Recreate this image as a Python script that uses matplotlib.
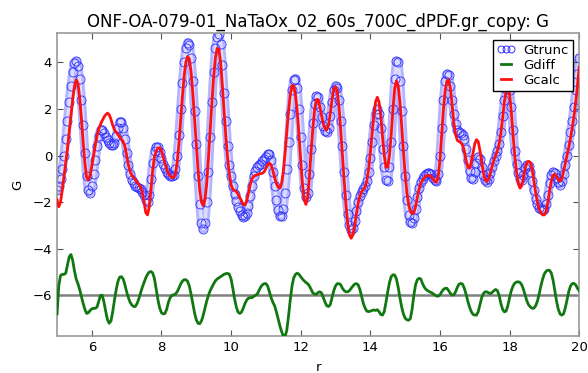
import numpy as np
import matplotlib
matplotlib.use("Agg")
import matplotlib.pyplot as plt
from matplotlib.lines import Line2D

# r grid (step 0.05 from 5 to 20)
r = np.arange(301) * 0.05 + 5.0

gtrunc = [
    -1.5, -1.3, -1.0, -0.6, 0.0, 0.7, 1.5, 2.3, 3.0, 3.6, 3.95, 4.05, 3.85, 3.3, 2.4, 1.3, 0.1, -0.9, -1.5, -1.6,
    -1.3, -0.8, -0.2, 0.4, 0.85, 1.1, 1.1, 0.95, 0.8, 0.65, 0.55, 0.45, 0.45, 0.55, 0.85, 1.2, 1.45, 1.45, 1.2, 0.7,
    0.1, -0.4, -0.8, -1.05, -1.2, -1.3, -1.35, -1.4, -1.45, -1.55, -1.7, -1.9, -2.0, -1.7, -1.0, -0.3, 0.2, 0.38, 0.35, 0.15,
    -0.1, -0.35, -0.55, -0.7, -0.8, -0.88, -0.9, -0.85, -0.6, 0.0, 0.9, 2.0, 3.1, 4.0, 4.6, 4.85, 4.75, 4.2, 3.2, 1.9,
    0.5, -0.9, -2.1, -2.9, -3.15, -2.9, -2.0, -0.7, 0.8, 2.3, 3.6, 4.6, 5.1, 5.2, 4.8, 3.9, 2.7, 1.5, 0.4, -0.4,
    -0.9, -1.3, -1.65, -1.95, -2.2, -2.4, -2.55, -2.62, -2.6, -2.45, -2.15, -1.75, -1.3, -0.9, -0.65, -0.5, -0.4, -0.35, -0.25, -0.15,
    -0.05, 0.05, 0.05, -0.2, -0.7, -1.3, -1.9, -2.35, -2.6, -2.6, -2.3, -1.6, -0.6, 0.6, 1.8, 2.8, 3.25, 3.3, 2.9, 2.0,
    0.8, -0.4, -1.4, -1.8, -1.6, -0.8, 0.3, 1.4, 2.2, 2.55, 2.5, 2.1, 1.65, 1.25, 1.05, 1.0, 1.2, 1.7, 2.3, 2.8,
    3.0, 2.9, 2.4, 1.5, 0.4, -0.7, -1.7, -2.5, -3.0, -3.2, -3.1, -2.8, -2.4, -2.0, -1.75, -1.55, -1.45, -1.3, -1.1, -0.7,
    -0.1, 0.6, 1.3, 1.8, 2.0, 1.8, 1.2, 0.3, -0.5, -1.05, -1.1, -0.5, 0.6, 2.0, 3.3, 4.05, 4.0, 3.2, 1.9, 0.4,
    -0.9, -1.9, -2.55, -2.85, -2.9, -2.7, -2.3, -1.8, -1.4, -1.15, -1.0, -0.9, -0.8, -0.75, -0.75, -0.8, -0.95, -1.05, -1.1, -0.8,
    0.0, 1.2, 2.4, 3.2, 3.5, 3.45, 3.0, 2.4, 1.8, 1.35, 1.1, 1.0, 0.95, 0.9, 0.7, 0.3, -0.2, -0.65, -0.95, -1.0,
    -0.7, -0.3, -0.05, -0.15, -0.5, -0.85, -1.05, -1.12, -1.0, -0.75, -0.5, -0.25, 0.0, 0.2, 0.5, 1.0, 1.7, 2.4, 2.85, 3.0,
    2.8, 2.1, 1.1, 0.2, -0.35, -0.75, -1.0, -1.05, -0.85, -0.55, -0.4, -0.45, -0.7, -1.1, -1.5, -1.85, -2.1, -2.25, -2.3, -2.35,
    -2.3, -2.1, -1.7, -1.2, -0.85, -0.7, -0.75, -0.95, -1.15, -1.25, -1.1, -0.8, -0.4, 0.0, 0.45, 1.0, 1.5, 2.1, 2.8, 3.5,
    4.2,
]

gcalc = [
    -1.9, -2.2, -2.0, -1.5, -0.9, -0.3, 0.3, 1.0, 1.7, 2.4, 2.95, 3.25, 3.1, 2.5, 1.6, 0.6, -0.3, -0.95, -1.05, -0.85,
    -0.45, 0.0, 0.45, 0.85, 1.15, 1.35, 1.5, 1.65, 1.75, 1.82, 1.75, 1.55, 1.3, 1.1, 1.0, 0.9, 0.8, 0.7, 0.6, 0.4,
    0.0, -0.4, -0.7, -0.85, -0.95, -1.05, -1.15, -1.25, -1.35, -1.6, -2.0, -2.45, -2.55, -2.2, -1.4, -0.6, -0.05, 0.2, 0.32, 0.33,
    0.2, -0.05, -0.35, -0.6, -0.78, -0.88, -0.93, -0.95, -0.8, -0.3, 0.5, 1.5, 2.5, 3.4, 4.0, 4.25, 4.15, 3.6, 2.7, 1.6,
    0.5, -0.6, -1.5, -2.0, -2.15, -1.9, -1.2, -0.1, 1.1, 2.3, 3.4, 4.2, 4.6, 4.55, 4.0, 3.0, 1.9, 0.8, -0.1, -0.8,
    -1.25, -1.45, -1.5, -1.55, -1.65, -1.8, -1.95, -2.1, -2.12, -1.95, -1.6, -1.25, -1.0, -0.9, -0.85, -0.82, -0.8, -0.78, -0.76, -0.7,
    -0.55, -0.4, -0.33, -0.4, -0.65, -0.95, -1.2, -1.35, -1.4, -1.2, -0.7, 0.1, 1.0, 1.9, 2.6, 3.0, 3.0, 2.6, 1.9, 0.9,
    -0.2, -1.2, -1.9, -2.1, -1.8, -0.9, 0.2, 1.2, 2.0, 2.4, 2.4, 2.1, 1.7, 1.35, 1.15, 1.1, 1.3, 1.8, 2.4, 2.85,
    2.95, 2.75, 2.1, 1.1, 0.0, -1.1, -2.1, -2.9, -3.4, -3.55, -3.4, -3.0, -2.5, -2.05, -1.75, -1.55, -1.45, -1.35, -1.1, -0.6,
    0.1, 0.9, 1.7, 2.3, 2.5, 2.3, 1.7, 0.8, 0.0, -0.5, -0.5, 0.0, 0.9, 2.0, 2.9, 3.2, 3.0, 2.3, 1.3, 0.2,
    -0.8, -1.6, -2.1, -2.4, -2.5, -2.45, -2.2, -1.8, -1.45, -1.2, -1.05, -0.95, -0.88, -0.85, -0.85, -0.9, -1.0, -1.1, -1.15, -0.9,
    -0.2, 0.9, 2.0, 2.8, 3.2, 3.25, 2.9, 2.2, 1.4, 0.9, 0.65, 0.6, 0.55, 0.45, 0.2, -0.2, -0.5, -0.55, -0.3, 0.1,
    0.5, 0.68, 0.6, 0.2, -0.3, -0.75, -1.05, -1.12, -1.0, -0.75, -0.45, -0.2, 0.0, 0.2, 0.5, 0.95, 1.6, 2.3, 2.75, 2.9,
    2.65, 1.9, 0.9, 0.0, -0.7, -1.2, -1.4, -1.3, -0.95, -0.55, -0.3, -0.25, -0.3, -0.6, -1.1, -1.6, -2.0, -2.3, -2.45, -2.55,
    -2.55, -2.4, -2.0, -1.5, -1.1, -0.85, -0.8, -0.9, -1.05, -1.1, -1.0, -0.7, -0.35, 0.0, 0.35, 0.75, 1.2, 1.7, 2.3, 3.0,
    3.8,
]

# difference curve, already shifted to the baseline below
gdiff = [
    -6.8, -5.6, -5.15, -5.1, -5.1, -5.05, -4.7, -4.35, -4.25, -4.5, -4.95, -5.3, -5.5, -5.75, -6.05, -6.35, -6.6, -6.78, -6.75, -6.65,
    -6.58, -6.56, -6.56, -6.5, -6.25, -6.0, -6.0, -6.3, -6.7, -7.05, -7.2, -7.1, -6.7, -6.2, -5.75, -5.4, -5.22, -5.2, -5.3, -5.55,
    -5.85, -6.1, -6.3, -6.42, -6.48, -6.48, -6.35, -6.15, -5.9, -5.65, -5.45, -5.25, -5.1, -5.0, -4.98, -5.05, -5.3, -5.75, -6.2, -6.55,
    -6.75, -6.8, -6.78, -6.6, -6.3, -6.1, -6.0, -5.98, -5.95, -5.85, -5.7, -5.52, -5.4, -5.33, -5.33, -5.4, -5.6, -5.95, -6.35, -6.75,
    -7.05, -7.2, -7.22, -7.1, -6.85, -6.55, -6.25, -6.0, -5.8, -5.65, -5.5, -5.38, -5.3, -5.25, -5.2, -5.15, -5.1, -5.07, -5.06, -5.1,
    -5.3, -5.7, -6.15, -6.5, -6.72, -6.78, -6.72, -6.55, -6.35, -6.2, -6.12, -6.1, -6.1, -6.05, -6.0, -5.95, -5.8, -5.65, -5.55, -5.5,
    -5.5, -5.6, -5.85, -6.1, -6.3, -6.45, -6.7, -7.0, -7.3, -7.55, -7.75, -7.78, -7.5, -6.9, -6.2, -5.6, -5.25, -5.1, -5.05, -5.1,
    -5.2, -5.3, -5.38, -5.45, -5.5, -5.6, -5.75, -5.9, -5.95, -5.95, -5.88, -5.85, -5.9, -6.1, -6.3, -6.45, -6.48, -6.4, -6.1, -5.8,
    -5.6, -5.5, -5.5, -5.55, -5.7, -5.8, -5.85, -5.85, -5.8, -5.7, -5.6, -5.52, -5.5, -5.55, -5.75, -6.05, -6.35, -6.55, -6.68, -6.7,
    -6.68, -6.65, -6.63, -6.65, -6.62, -6.7, -6.82, -6.85, -6.7, -6.3, -5.85, -5.45, -5.2, -5.12, -5.13, -5.3, -5.65, -6.1, -6.5, -6.8,
    -6.98, -7.05, -7.07, -7.0, -6.6, -6.0, -5.55, -5.33, -5.27, -5.3, -5.5, -5.65, -5.75, -5.8, -5.85, -5.88, -5.93, -5.98, -6.03, -6.04,
    -5.98, -5.85, -5.75, -5.7, -5.7, -5.8, -5.92, -5.99, -5.98, -5.85, -5.65, -5.52, -5.49, -5.52, -5.7, -5.95, -6.25, -6.5, -6.7, -6.82,
    -6.85, -6.85, -6.7, -6.4, -6.1, -5.92, -5.85, -5.85, -5.9, -5.92, -5.88, -5.8, -5.75, -5.8, -6.0, -6.35, -6.6, -6.71, -6.68, -6.45,
    -6.1, -5.8, -5.6, -5.48, -5.43, -5.42, -5.45, -5.55, -5.75, -6.0, -6.25, -6.42, -6.5, -6.56, -6.55, -6.45, -6.25, -5.95, -5.6, -5.3,
    -5.08, -4.97, -4.92, -4.93, -5.05, -5.35, -5.8, -6.25, -6.6, -6.8, -6.85, -6.8, -6.55, -6.2, -5.85, -5.6, -5.5, -5.49, -5.55, -5.7,
    -5.8,
]

baseline = -6.0
titulo = "ONF-OA-079-01_NaTaOx_02_60s_700C_dPDF.gr_copy: G"

plt.rcParams['font.family'] = ['DejaVu Sans']
plt.rcParams['xtick.direction'] = 'in'
plt.rcParams['ytick.direction'] = 'in'
plt.rcParams['xtick.top'] = True
plt.rcParams['ytick.right'] = True

fig = plt.figure(figsize=(5.88, 3.73), dpi=100)
ax = fig.add_axes([0.097, 0.099, 0.888, 0.812])

# the dense ring band of Gtrunc: a pale trace under the open circles
ax.plot(r, gtrunc, color='#b4b4ff', lw=6.5, solid_capstyle='round', zorder=1)
ax.plot(r, gtrunc, color='#dcdcff', lw=2.5, zorder=1)
ax.plot(r, gtrunc, 'o', mfc='none', mec='#3030ff', ms=6.5, mew=0.6, zorder=2)
ax.plot(r, gdiff, color='#117711', lw=2, zorder=3)
ax.plot(r, gcalc, color='#ff1010', lw=2, zorder=4)
ax.axhline(baseline, color='gray', lw=1.8, zorder=2)

ax.set_xlim(5, 20)
ax.set_ylim(-7.75, 5.25)
ax.set_xticks([6, 8, 10, 12, 14, 16, 18, 20])
ax.set_yticks([-6, -4, -2, 0, 2, 4])
ax.tick_params(labelsize=9.5, length=4, color='#555555')
for s in ax.spines.values():
    s.set_color('#999999')
    s.set_linewidth(1.2)

ax.set_title(titulo, fontsize=12, pad=5)
ax.set_xlabel('r', fontsize=9.5, labelpad=5)
ax.set_ylabel('G', fontsize=9.5, labelpad=6)

handles = [
    Line2D([], [], ls='none', marker='o', mfc='none', mec='#3030ff', ms=5, mew=0.7),
    Line2D([], [], color='#117711', lw=2),
    Line2D([], [], color='#ff1010', lw=2),
]
leg = ax.legend(handles, ['Gtrunc', 'Gdiff', 'Gcalc'], loc='upper right', numpoints=3,
                fontsize=9.5, handlelength=1.4, handletextpad=0.6, labelspacing=0.15,
                borderpad=0.3, borderaxespad=0.5, fancybox=False, framealpha=1)
leg.get_frame().set_edgecolor('black')

fig.savefig('out.png', dpi=100)
